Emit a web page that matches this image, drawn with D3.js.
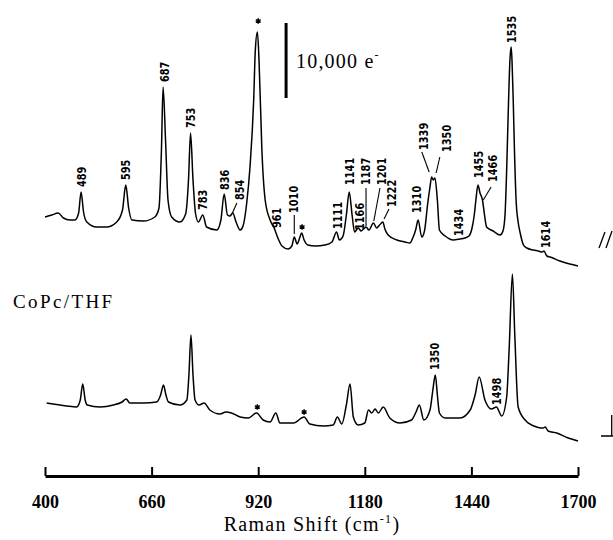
<!DOCTYPE html>
<html><head><meta charset="utf-8">
<script src="https://cdn.jsdelivr.net/npm/d3@7"></script>
<style>body{margin:0;background:#fff}svg{display:block}</style>
</head><body>
<svg id="c" width="613" height="540"></svg>
<script>
// Raman shift (cm-1) and intensity (arb. units; 75 units = 10,000 e-)
const topShift = [400,417,432,445,461,473,482,488,494,502,526,550,575,589,597,604,612,640,668,678,684,688,694,700,709,729,743,750,755,761,767,774,785,794,819,829,837,845,851,858,866,876,883,892,900,909,913,918,922,929,937,949,959,968,978,993,1002,1008,1015,1021,1026,1032,1041,1059,1083,1100,1111,1118,1127,1135,1142,1149,1155,1164,1171,1177,1183,1190,1201,1209,1216,1224,1229,1237,1258,1278,1290,1297,1304,1310,1319,1326,1333,1339,1343,1347,1351,1357,1362,1376,1396,1412,1424,1434,1441,1447,1451,1456,1461,1467,1472,1477,1493,1510,1517,1522,1526,1530,1534,1537,1539,1542,1545,1549,1554,1559,1567,1575,1591,1603,1613,1617,1624,1632,1656,1680,1700];
const topIntensity = [223,225,227,222,220,220,227,248,228,218,213,213,218,230,255,232,220,219,223,232,290,353,300,240,223,218,226,260,307,260,227,218,225,213,210,220,246,225,224,227,218,210,214,237,273,340,390,408,380,290,240,220,212,202,194,191,194,203,196,202,207,200,195,194,195,198,208,200,204,225,248,225,208,212,209,211,213,210,217,212,215,218,211,205,200,198,197,202,210,220,203,210,235,253,263,260,262,240,210,204,200,201,202,204,211,225,240,255,247,240,225,213,209,205,209,225,270,330,380,393,380,340,290,240,218,207,195,192,190,189,188,189,184,183,179,176,174];
const bottomShift = [404,453,477,486,492,498,503,534,567,588,598,607,640,672,682,689,695,701,729,746,751,756,761,766,776,788,802,827,841,855,876,896,916,932,949,963,973,1006,1032,1046,1079,1103,1113,1124,1135,1144,1152,1164,1180,1189,1197,1205,1213,1225,1241,1266,1294,1305,1313,1324,1339,1346,1352,1357,1362,1376,1412,1437,1449,1459,1473,1489,1501,1514,1526,1532,1540,1546,1554,1571,1599,1610,1615,1620,1627,1648,1676,1700];
const bottomIntensity = [37,34,33,40,56,40,35,33,35,38,41,37,37,38,45,55,45,38,35,40,65,105,65,40,35,37,30,26,28,27,23,22,27,20,18,27,17,17,23,16,14,15,23,16,35,56,23,15,17,30,27,31,27,33,22,17,20,28,35,20,30,50,65,45,27,22,22,30,45,63,40,31,33,24,43,90,166,103,33,20,13,12,12,13,9,7,2,-1];
const xTicks = [400,660,920,1180,1440,1700];
// peak labels: text, shift, intensity at label base
const topLabels = [["489",489,253],["595",597,260],["687",693,358],["753",756,312],["783",785,230],["836",839,250],["854",876,240],["961",965,212],["1010",1006,227],["1111",1115,211],["1141",1144,255],["1166",1169,210],["1187",1183,255],["1201",1221,255],["1222",1246,233],["1310",1308,227],["1339",1323,290],["1350",1380,288],["1434",1410,204],["1455",1457,262],["1466",1493,258],["1535",1538,397],["1614",1621,192]];
const bottomLabels = [["1350",1351,70],["1498",1502,35]];
const leaders = [[868,237,856,226],[1008,225,1008,206],[1183,252,1183,214],[1217,252,1202,219],[1239,231,1227,221],[1319,288,1337,268],[1363,283,1354,267],[1488,253,1469,240]];
const stars = [[920,419],[1027,213],[918,33],[1032,28]];
const scaleBarShift = 988, scaleBarTop = 417, scaleBarCounts = 10000, unitsPer10000 = 75;

const svg = d3.select("#c");
const x = d3.scaleLinear().domain([400,1700]).range([45,578]);
const y = d3.scaleLinear().domain([0,440]).range([440,0]);
const line = d3.line().x(d=>x(d[0])).y(d=>y(d[1])).curve(d3.curveMonotoneX);

const series = [d3.zip(topShift, topIntensity), d3.zip(bottomShift, bottomIntensity)];
svg.selectAll("path.trace").data(series).join("path").attr("class","trace")
  .attr("d", line).attr("fill","none").attr("stroke","#000").attr("stroke-width",1.5).attr("stroke-linejoin","round");

// axis
const ax = svg.append("g").attr("transform","translate(0,476)")
  .call(d3.axisBottom(x).tickValues(xTicks).tickSizeInner(-9).tickSizeOuter(0).tickPadding(19).tickFormat(d3.format("d")));
ax.select(".domain").attr("stroke-width",3);
ax.selectAll(".tick line").attr("stroke-width",2);
ax.selectAll(".tick text").attr("font-family","Liberation Serif, serif").attr("font-weight","bold").attr("font-size",18).attr("fill","#000");

// title
const t = svg.append("text").attr("x",312).attr("y",531).attr("text-anchor","middle")
  .attr("font-family","Liberation Serif, serif").attr("font-size",20).attr("letter-spacing",1.3);
t.append("tspan").text("Raman Shift (cm");
t.append("tspan").attr("font-size",12).attr("dy",-8).text("-1");
t.append("tspan").attr("dy",8).text(")");

// peak labels
const allLabels = topLabels.concat(bottomLabels);
svg.selectAll("text.pk").data(allLabels).join("text").attr("class","pk")
  .attr("transform", d=>`translate(${x(d[1])},${y(d[2])}) rotate(-90)`)
  .attr("dy","0.36em").attr("font-family","DejaVu Sans Condensed, DejaVu Sans, sans-serif")
  .attr("font-weight","bold").attr("font-size",11.5)
  .attr("textLength", d=>d[0].length*6.8).attr("lengthAdjust","spacingAndGlyphs")
  .text(d=>d[0]);

svg.selectAll("line.ld").data(leaders).join("line").attr("class","ld")
  .attr("x1",d=>x(d[0])).attr("y1",d=>y(d[1])).attr("x2",d=>x(d[2])).attr("y2",d=>y(d[3]))
  .attr("stroke","#000").attr("stroke-width",1.1);

svg.selectAll("path.star").data(stars).join("path").attr("class","star")
  .attr("transform",d=>`translate(${x(d[0])},${y(d[1])})`)
  .attr("d", d3.symbol(d3.symbolAsterisk).size(22)).attr("fill","none").attr("stroke","#000").attr("stroke-width",1.5);

// scale bar
svg.append("line").attr("x1",x(scaleBarShift)).attr("x2",x(scaleBarShift))
  .attr("y1",y(scaleBarTop)).attr("y2",y(scaleBarTop-unitsPer10000*scaleBarCounts/10000))
  .attr("stroke","#000").attr("stroke-width",3);
const sb = svg.append("text").attr("x",296).attr("y",68).attr("font-family","Liberation Serif, serif").attr("font-size",20).attr("letter-spacing",1.2);
sb.append("tspan").text(d3.format(",")(scaleBarCounts)+" e");
sb.append("tspan").attr("font-size",12).attr("dy",-9).text("-");

// sample label
svg.append("text").attr("x",13).attr("y",308).attr("font-family","Liberation Serif, serif").attr("font-size",19).attr("letter-spacing",2.4).text("CoPc/THF");

// break marks at right
svg.append("path").attr("d","M599,248L605,232M606,248L612,231").attr("stroke","#000").attr("stroke-width",1.3).attr("fill","none");
svg.append("path").attr("d","M601,436H613M611.7,436V415").attr("stroke","#000").attr("stroke-width",1.3).attr("fill","none");
</script>
</body></html>
